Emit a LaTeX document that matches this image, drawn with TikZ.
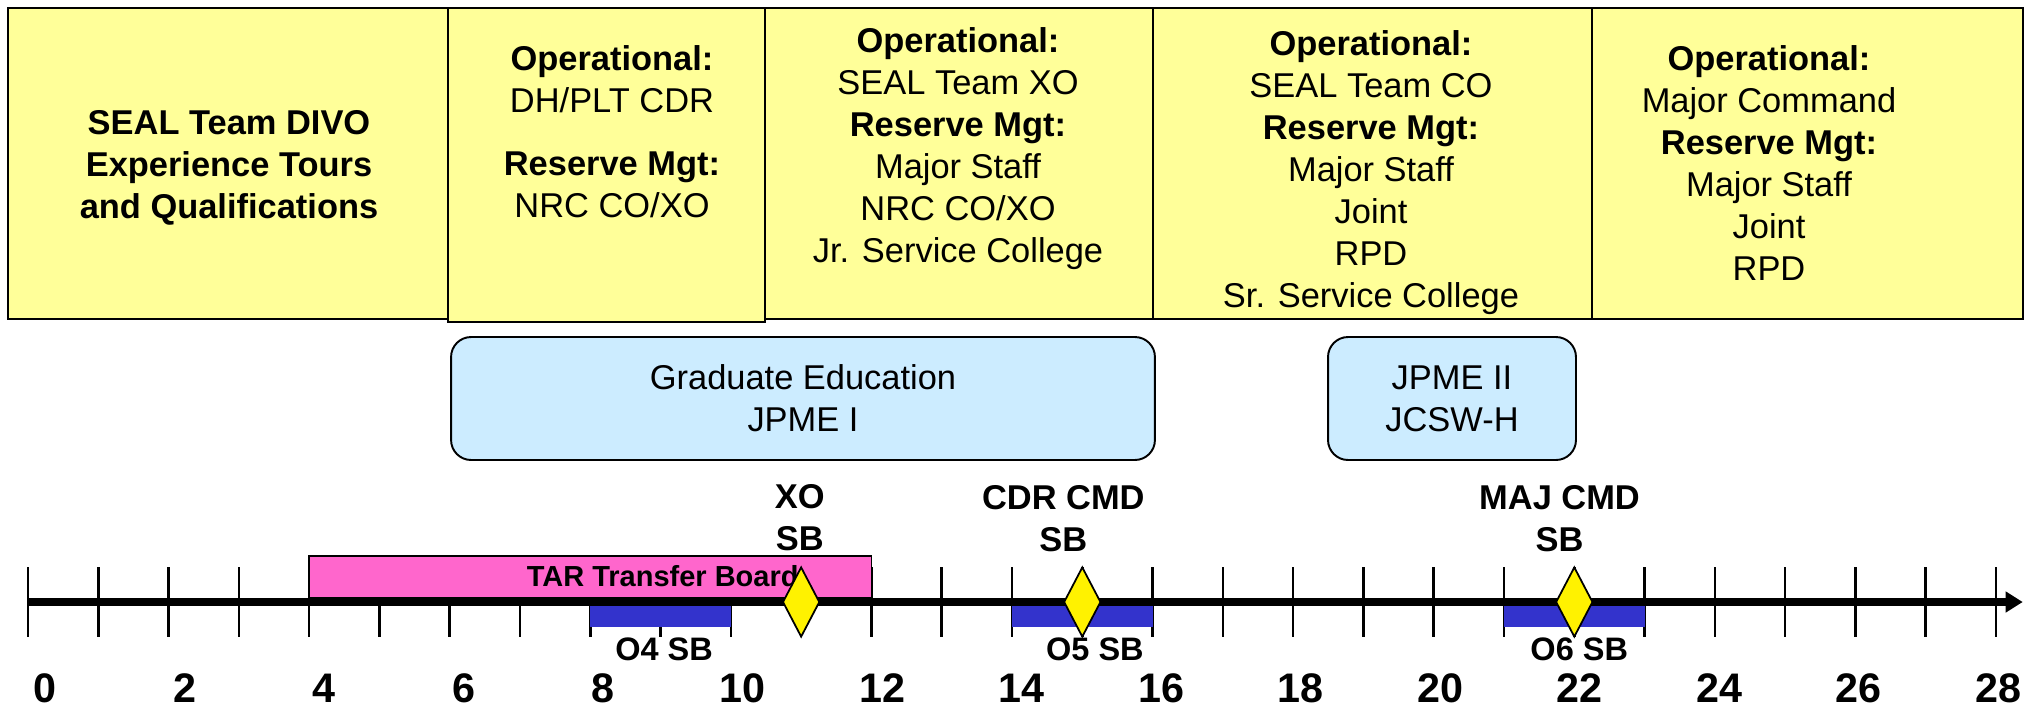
\documentclass[tikz,border=0pt]{standalone}
\usepackage{fontspec}
\setmainfont{Liberation Sans}
\usepackage{tikz}
\usetikzlibrary{arrows.meta}
\usetikzlibrary{shapes.geometric}

\definecolor{cellyellow}{HTML}{FFFF99}
\definecolor{tarpink}{HTML}{FF66CC}
\definecolor{sbblue}{HTML}{3333CC}
\definecolor{edublue}{HTML}{CCECFF}

\newcommand{\cellfont}{\fontsize{19.6}{23.9}\selectfont}
\newcommand{\boardfont}{\fontsize{16.5}{20}\selectfont\bfseries}
\newcommand{\sbfont}{\fontsize{18.5}{22}\selectfont\bfseries}
\newcommand{\yearfont}{\fontsize{23.5}{28}\selectfont\bfseries}

\begin{document}
\begin{tikzpicture}[x=0.02cm, y=-0.02cm,
  cell/.style={draw=black, line width=1.5pt, fill=cellyellow},
  celltext/.style={anchor=north, align=center, inner sep=0pt, font=\cellfont},
  edubox/.style={draw=black, line width=1.1pt, fill=edublue, rounded corners=0.4cm,
    align=center, inner sep=0pt, minimum height=2.46cm, font=\cellfont},
  yeartick/.style={line width=1.5pt},
  tarbar/.style={draw=black, line width=1pt, fill=tarpink},
  timeaxis/.style={line width=4pt, -{Triangle[length=0.34cm, width=0.4cm]}},
  sbmark/.style={diamond, draw=black, line width=1pt, fill=yellow, inner sep=0pt,
    minimum width=0.74cm, minimum height=1.4cm},
  marklabel/.style={anchor=north, align=center, inner sep=0pt, font=\cellfont\bfseries},
  sblabel/.style={inner sep=0pt, font=\sbfont},
  yearnum/.style={inner sep=0pt, font=\yearfont}]
\useasboundingbox (0,0) rectangle (2026,708);

% tours
\draw[cell] (8,8) rectangle (448,319);
\draw[cell] (448,8) rectangle (765,322);
\draw[cell] (765,8) rectangle (1153,319);
\draw[cell] (1153,8) rectangle (1592,319);
\draw[cell] (1592,8) rectangle (2023,319);
\node[celltext, font=\cellfont\bfseries] (tdivo) at (229,110) {SEAL Team DIVO\\Experience Tours\\and Qualifications};
\node[celltext] (tdh) at (612,45) {\textbf{Operational:}\\DH/PLT CDR\\[0.42cm]\textbf{Reserve Mgt:}\\NRC CO/XO};
\node[celltext] (txo) at (958,27) {\textbf{Operational:}\\SEAL Team XO\\\textbf{Reserve Mgt:}\\Major Staff\\NRC CO/XO\\Jr. Service College};
\node[celltext] (tco) at (1371,30) {\textbf{Operational:}\\SEAL Team CO\\\textbf{Reserve Mgt:}\\Major Staff\\Joint\\RPD\\Sr. Service College};
\node[celltext] (tmaj) at (1769,45) {\textbf{Operational:}\\Major Command\\\textbf{Reserve Mgt:}\\Major Staff\\Joint\\RPD};

% schooling
\node[edubox, minimum width=14.08cm] (gradedu) at (803,398.5) {Graduate Education\\JPME I};
\node[edubox, minimum width=4.96cm] (jpme) at (1452,398.5) {JPME II\\JCSW-H};

% timeline, x in years
\begin{scope}[shift={(28,602)}, x=1.406cm]
\foreach \t in {0,...,28} \draw[yeartick] (\t,-35) -- (\t,35);
\draw[tarbar] (4,-46) rectangle (12,-4);
\node[font=\boardfont, inner sep=0pt] (tar) at (9.03,-26) {TAR Transfer Board};
\fill[sbblue] (8,1) rectangle (10,25);
\fill[sbblue] (14,1) rectangle (16,25);
\fill[sbblue] (21,1) rectangle (23,25);
\coordinate (start) at (0,0);
\coordinate (end) at (28.38,0);
\draw[timeaxis] (start) -- (end);
\node[sbmark] (xosb) at (11,0) {};
\node[sbmark] (cdrsb) at (15,0) {};
\node[sbmark] (majsb) at (22,0) {};
\node[marklabel] (xolab) at (10.98,-118) {XO\\SB};
\node[marklabel] (cdrlab) at (14.73,-117) {CDR CMD\\SB};
\node[marklabel] (majlab) at (21.79,-117) {MAJ CMD\\SB};
\node[sblabel] (o4) at (9.05,47) {O4 SB};
\node[sblabel] (o5) at (15.18,47) {O5 SB};
\node[sblabel] (o6) at (22.07,47) {O6 SB};
\foreach \n in {0,2,...,28}
  \node[yearnum] (y\n) at ({0.9924*\n+0.242},86) {\n};
\end{scope}
\end{tikzpicture}
\end{document}
